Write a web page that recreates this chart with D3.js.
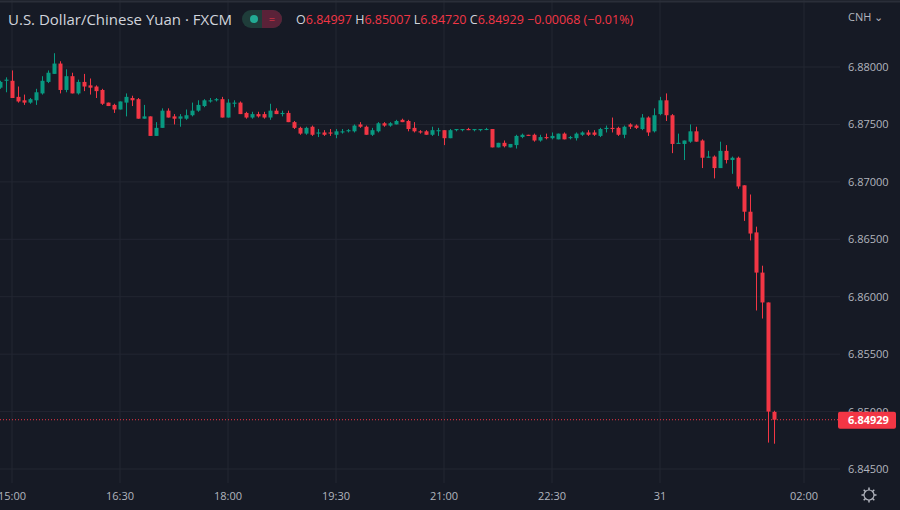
<!DOCTYPE html>
<html><head><meta charset="utf-8">
<script src="https://cdn.jsdelivr.net/npm/d3@7"></script>
<style>html,body{margin:0;padding:0;background:#161a25;}svg{display:block;font-family:"Open Sans","Noto Sans",sans-serif;}</style>
</head><body><svg id="c" width="900" height="510"></svg>
<script>
const title = "U.S. Dollar/Chinese Yuan · FXCM";
const currency = "CNH";
const startTime = new Date(2022, 9, 30, 14, 50); // first 5-minute bar
const barMinutes = 5;
// [open, high, low, close]
const ohlc = [
[6.8782,6.8788,6.8781,6.8787],[6.8788,6.8791,6.8778,6.8789],[6.8788,6.8797,6.8773,6.8773],[6.8774,6.8783,6.8769,6.8770],
[6.8771,6.8776,6.8767,6.8769],[6.8769,6.8773,6.8768,6.8772],[6.8771,6.8781,6.8767,6.8778],[6.8777,6.8792,6.8776,6.8788],
[6.8787,6.8797,6.8786,6.8795],[6.8794,6.8812,6.8794,6.8803],[6.8803,6.8805,6.8777,6.8780],[6.8780,6.8798,6.8778,6.8792],
[6.8792,6.8795,6.8777,6.8777],[6.8777,6.8789,6.8776,6.8787],[6.8787,6.8794,6.8779,6.8783],[6.8784,6.8790,6.8776,6.8782],
[6.8783,6.8784,6.8773,6.8779],[6.8780,6.8781,6.8767,6.8768],[6.8769,6.8769,6.8766,6.8766],[6.8767,6.8768,6.8760,6.8763],
[6.8763,6.8770,6.8763,6.8770],[6.8769,6.8777,6.8757,6.8774],[6.8773,6.8775,6.8766,6.8771],[6.8772,6.8773,6.8755,6.8755],
[6.8755,6.8767,6.8755,6.8757],[6.8757,6.8757,6.8740,6.8740],[6.8740,6.8752,6.8740,6.8747],[6.8747,6.8764,6.8747,6.8762],
[6.8762,6.8764,6.8756,6.8756],[6.8757,6.8759,6.8750,6.8755],[6.8755,6.8759,6.8748,6.8757],[6.8755,6.8763,6.8754,6.8758],
[6.8758,6.8769,6.8757,6.8762],[6.8762,6.8771,6.8761,6.8767],[6.8766,6.8772,6.8765,6.8771],[6.8770,6.8773,6.8769,6.8771],
[6.8771,6.8773,6.8770,6.8772],[6.8772,6.8774,6.8756,6.8756],[6.8756,6.8772,6.8756,6.8769],[6.8768,6.8771,6.8765,6.8769],
[6.8769,6.8770,6.8759,6.8759],[6.8760,6.8761,6.8755,6.8756],[6.8756,6.8761,6.8755,6.8759],[6.8759,6.8761,6.8756,6.8757],
[6.8759,6.8761,6.8755,6.8756],[6.8756,6.8768,6.8754,6.8762],[6.8762,6.8764,6.8759,6.8759],[6.8759,6.8762,6.8757,6.8760],
[6.8760,6.8762,6.8752,6.8752],[6.8752,6.8753,6.8746,6.8747],[6.8747,6.8748,6.8741,6.8742],[6.8742,6.8748,6.8741,6.8747],
[6.8748,6.8749,6.8740,6.8741],[6.8742,6.8746,6.8739,6.8743],[6.8743,6.8745,6.8740,6.8741],[6.8743,6.8746,6.8740,6.8742],
[6.8741,6.8746,6.8738,6.8744],[6.8743,6.8746,6.8742,6.8744],[6.8744,6.8746,6.8743,6.8745],[6.8744,6.8750,6.8743,6.8749],
[6.8750,6.8752,6.8747,6.8748],[6.8748,6.8749,6.8741,6.8741],[6.8741,6.8747,6.8740,6.8745],[6.8744,6.8752,6.8743,6.8751],
[6.8751,6.8752,6.8748,6.8749],[6.8749,6.8752,6.8748,6.8751],[6.8750,6.8754,6.8750,6.8753],[6.8754,6.8755,6.8752,6.8752],
[6.8753,6.8754,6.8744,6.8746],[6.8747,6.8752,6.8743,6.8744],[6.8744,6.8745,6.8742,6.8743],[6.8744,6.8745,6.8741,6.8741],
[6.8741,6.8748,6.8740,6.8745],[6.8744,6.8747,6.8740,6.8745],[6.8745,6.8745,6.8732,6.8738],[6.8738,6.8746,6.8738,6.8745],
[6.8745,6.8746,6.8744,6.8746],[6.8745,6.8746,6.8744,6.8746],[6.8746,6.8747,6.8745,6.8745],[6.8745,6.8746,6.8744,6.8746],
[6.8745,6.8746,6.8744,6.8746],[6.8746,6.8747,6.8745,6.8746],[6.8746,6.8746,6.8730,6.8730],[6.8730,6.8734,6.8730,6.8734],
[6.8734,6.8736,6.8730,6.8731],[6.8730,6.8733,6.8730,6.8733],[6.8732,6.8741,6.8729,6.8740],[6.8739,6.8742,6.8738,6.8741],
[6.8741,6.8741,6.8740,6.8740],[6.8741,6.8742,6.8735,6.8736],[6.8736,6.8741,6.8735,6.8739],[6.8739,6.8742,6.8737,6.8738],
[6.8738,6.8743,6.8737,6.8740],[6.8737,6.8742,6.8737,6.8742],[6.8742,6.8743,6.8737,6.8737],[6.8738,6.8740,6.8737,6.8739],
[6.8738,6.8743,6.8736,6.8742],[6.8741,6.8744,6.8740,6.8743],[6.8743,6.8745,6.8740,6.8741],[6.8743,6.8745,6.8740,6.8741],
[6.8740,6.8747,6.8739,6.8746],[6.8746,6.8749,6.8743,6.8747],[6.8747,6.8756,6.8743,6.8746],[6.8747,6.8748,6.8740,6.8741],
[6.8741,6.8749,6.8738,6.8748],[6.8750,6.8751,6.8746,6.8748],[6.8749,6.8750,6.8746,6.8747],[6.8746,6.8759,6.8745,6.8756],
[6.8756,6.8757,6.8740,6.8743],[6.8744,6.8764,6.8743,6.8758],[6.8759,6.8774,6.8758,6.8771],[6.8771,6.8777,6.8753,6.8758],
[6.8758,6.8759,6.8725,6.8733],[6.8733,6.8742,6.8733,6.8734],[6.8733,6.8736,6.8719,6.8736],[6.8735,6.8750,6.8734,6.8744],
[6.8744,6.8748,6.8735,6.8735],[6.8736,6.8737,6.8712,6.8721],[6.8721,6.8727,6.8721,6.8722],[6.8722,6.8723,6.8703,6.8712],
[6.8712,6.8735,6.8712,6.8727],[6.8727,6.8732,6.8716,6.8719],[6.8719,6.8722,6.8707,6.8721],[6.8721,6.8722,6.8694,6.8696],
[6.8697,6.8697,6.8666,6.8674],[6.8674,6.8689,6.8649,6.8655],[6.8656,6.8661,6.8588,6.8621],[6.8621,6.8627,6.8581,6.8595],
[6.8595,6.8595,6.8473,6.8500],[6.84997,6.85007,6.84720,6.84929]
];
const priceTicks = [6.845, 6.85, 6.855, 6.86, 6.865, 6.87, 6.875, 6.88];
const timeTicks = [
  [new Date(2022,9,30,15,0),"15:00"],[new Date(2022,9,30,16,30),"16:30"],[new Date(2022,9,30,18,0),"18:00"],
  [new Date(2022,9,30,19,30),"19:30"],[new Date(2022,9,30,21,0),"21:00"],[new Date(2022,9,30,22,30),"22:30"],
  [new Date(2022,9,31,0,0),"31"],[new Date(2022,9,31,2,0),"02:00"]
];
const header = {o:"6.84997", h:"6.85007", l:"6.84720", c:"6.84929", chg:"−0.00068 (−0.01%)"};

const UP="#089981", DN="#f23645", BG="#161a25", GRID="#232632", TXT="#b2b5be";
const W=900,H=510, plotR=840, plotB=483;
const svg=d3.select("#c");
svg.append("rect").attr("width",W).attr("height",H).attr("fill",BG);

const bars = ohlc.map((d,i)=>({t:new Date(startTime.getTime()+i*barMinutes*60000),o:d[0],h:d[1],l:d[2],c:d[3]}));
const x = d3.scaleTime().domain([new Date(2022,9,30,15,0), new Date(2022,9,31,2,0)]).range([12,804]);
const y = d3.scaleLinear().domain([6.845,6.88]).range([469,67]);

// grid
const g=svg.append("g");
g.selectAll(".hg").data(priceTicks).join("line").attr("x1",0).attr("x2",plotR)
  .attr("y1",d=>y(d)).attr("y2",d=>y(d)).attr("stroke",GRID).attr("stroke-width",1);
g.selectAll(".vg").data(timeTicks).join("line").attr("y1",0).attr("y2",plotB)
  .attr("x1",d=>x(d[0])).attr("x2",d=>x(d[0])).attr("stroke",GRID).attr("stroke-width",1);
svg.append("line").attr("x1",0).attr("x2",W).attr("y1",1.5).attr("y2",1.5).attr("stroke","#2a2e39").attr("stroke-width",2);

// candles
const cg=svg.append("g");
const bw=4;
cg.selectAll("line.w").data(bars).join("line")
  .attr("x1",d=>Math.round(x(d.t))+0.5).attr("x2",d=>Math.round(x(d.t))+0.5)
  .attr("y1",d=>y(d.h)).attr("y2",d=>y(d.l)).attr("stroke",d=>d.c>=d.o?UP:DN).attr("stroke-width",1);
cg.selectAll("rect.b").data(bars).join("rect")
  .attr("x",d=>Math.round(x(d.t))+0.5-bw/2).attr("width",bw)
  .attr("y",d=>y(Math.max(d.o,d.c))).attr("height",d=>Math.max(1,Math.abs(y(d.o)-y(d.c))))
  .attr("fill",d=>d.c>=d.o?UP:DN);

// last price line
const last=bars[bars.length-1].c;
svg.append("line").attr("x1",0).attr("x2",plotR).attr("y1",y(last)).attr("y2",y(last))
  .attr("stroke",DN).attr("stroke-width",1).attr("stroke-dasharray","1,2");

// price axis
const pa=svg.append("g").attr("transform",`translate(${plotR},0)`);
pa.selectAll("text").data(priceTicks).join("text").attr("x",8).attr("y",d=>y(d)+4)
  .attr("fill",TXT).attr("font-size",11).text(d=>d3.format(".5f")(d));
pa.append("rect").attr("x",-2).attr("y",y(last)-8).attr("width",58).attr("height",17).attr("rx",2).attr("fill",DN);
pa.append("text").attr("x",8).attr("y",y(last)+4).attr("fill","#fff").attr("font-size",11).attr("font-weight","bold").text(d3.format(".5f")(last));
pa.append("text").attr("x",8).attr("y",21).attr("fill",TXT).attr("font-size",11).text(currency+" ⌄");

// time axis
svg.append("g").selectAll("text").data(timeTicks).join("text")
  .attr("x",d=>x(d[0])).attr("y",500).attr("text-anchor","middle").attr("fill",TXT).attr("font-size",11).text(d=>d[1]);
// gear
const gear=svg.append("g").attr("transform","translate(869,495)");
gear.append("circle").attr("r",5).attr("fill","none").attr("stroke",TXT).attr("stroke-width",1.2);
d3.range(8).forEach(k=>{const a=k*Math.PI/4;gear.append("line").attr("x1",5*Math.cos(a)).attr("y1",5*Math.sin(a)).attr("x2",7.5*Math.cos(a)).attr("y2",7.5*Math.sin(a)).attr("stroke",TXT).attr("stroke-width",1.5);});

// header
svg.append("text").attr("x",8).attr("y",25).attr("fill","#d1d4dc").attr("font-size",15).text(title);
svg.append("rect").attr("x",242).attr("y",10).attr("width",40).attr("height",18).attr("rx",9).attr("fill","#1f3d3a");
svg.append("path").attr("d","M262,10 h11 a9,9 0 0 1 0,18 h-11 z").attr("fill","#5a2238");
svg.append("circle").attr("cx",254).attr("cy",19).attr("r",4).attr("fill","#22ab94");
svg.append("text").attr("x",272).attr("y",23).attr("text-anchor","middle").attr("fill","#f23645").attr("font-size",11).text("=");
const ht=svg.append("text").attr("x",296).attr("y",24).attr("font-size",12.5);
[["O",header.o],["H",header.h],["L",header.l],["C",header.c]].forEach(([k,v])=>{
  ht.append("tspan").attr("fill","#d1d4dc").text(k);
  ht.append("tspan").attr("fill",DN).text(v+" ");
});
ht.append("tspan").attr("fill",DN).text(header.chg);
</script></body></html>
